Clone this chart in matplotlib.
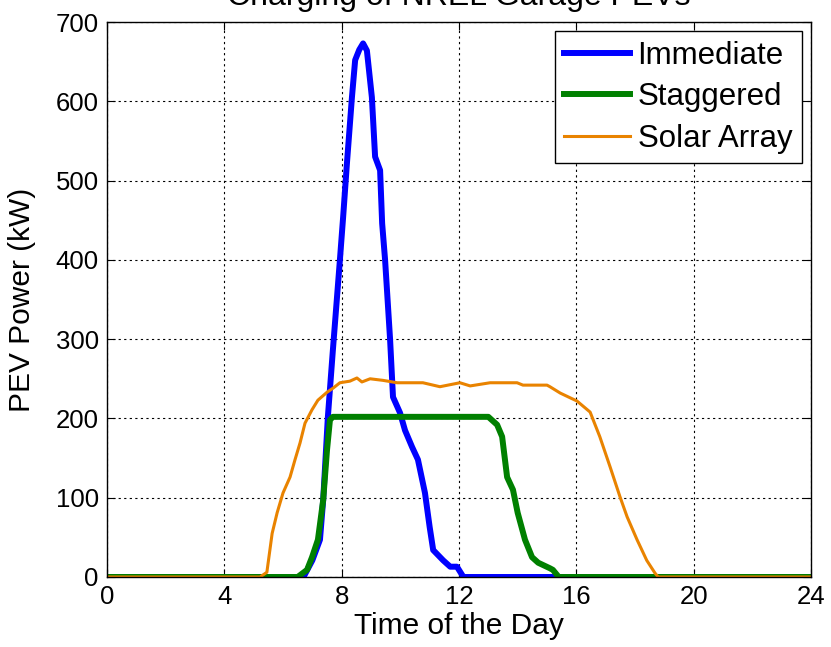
import matplotlib
matplotlib.use("Agg")
import matplotlib.pyplot as plt

plt.rcParams['font.family'] = ['Liberation Sans', 'DejaVu Sans']

# Immediate charging (kW) vs hour of day
imm_t = [0, 6.7, 7.0, 7.26, 7.37, 7.53, 7.7, 7.94, 8.05, 8.18, 8.35, 8.46, 8.6, 8.73,
         8.86, 9.03, 9.14, 9.31, 9.38, 9.48, 9.65, 9.75, 9.99, 10.16, 10.4, 10.6,
         10.84, 11.0, 11.12, 11.46, 11.7, 11.93, 12.15, 24]
imm_p = [0, 0, 21, 47, 97, 202, 286, 400, 454, 522, 605, 652, 665, 673,
         664, 605, 530, 513, 446, 400, 300, 227, 207, 185, 164, 148,
         106, 63, 34, 21, 13, 13, 0, 0]

# Staggered charging
stg_t = [0, 6.5, 6.82, 6.99, 7.19, 7.37, 7.5, 7.6, 7.7, 13.0, 13.3, 13.47, 13.64,
         13.84, 14.0, 14.25, 14.49, 14.7, 15.1, 15.2, 15.4, 24]
stg_p = [0, 0, 9, 25, 47, 97, 160, 198, 202, 202, 192, 177, 126,
         110, 81, 47, 25, 18, 11, 9, 0, 0]

# Solar array output
sol_t = [0, 5.22, 5.45, 5.63, 5.8, 6.0, 6.24, 6.41, 6.58, 6.75, 6.99, 7.19, 7.5,
         7.7, 7.94, 8.28, 8.52, 8.69, 8.97, 9.41, 9.89, 10.77, 11.35, 12.03, 12.38,
         13.06, 13.98, 14.18, 15.0, 15.1, 15.45, 15.79, 16.02, 16.47, 16.8, 17.15,
         17.49, 17.73, 18.07, 18.4, 18.68, 18.79, 24]
sol_p = [0, 0, 6, 55, 81, 106, 126, 148, 169, 194, 211, 223, 233,
         238, 245, 247, 251, 246, 250, 248, 245, 245, 240, 245, 241,
         245, 245, 242, 242, 240, 232, 226, 222, 208, 177, 139,
         101, 76, 47, 21, 5, 0, 0]

xticks = [0, 4, 8, 12, 16, 20, 24]
yticks = [0, 100, 200, 300, 400, 500, 600, 700]

fig = plt.figure(figsize=(8.31, 6.47), dpi=100)
ax = fig.add_axes([107/831, 70/647, 704/831, 555/647])

ax.plot(imm_t, imm_p, color='#0000ff', lw=4.3, label='Immediate')
ax.plot(stg_t, stg_p, color='#008000', lw=4.3, label='Staggered')
ax.plot(sol_t, sol_p, color='#e98300', lw=2.2, label='Solar Array')

ax.set_xlim(0, 24)
ax.set_ylim(0, 700)
ax.set_xticks(xticks)
ax.set_yticks(yticks)
ax.tick_params(direction='in', top=True, right=True, labelsize=18.5, length=6, pad=6)
ax.grid(True, color='black', linestyle=(0, (2, 3)), lw=0.8)
for s in ax.spines.values():
    s.set_linewidth(1.0)

ax.set_xlabel('Time of the Day', fontsize=21.5, labelpad=2)
ax.set_ylabel('PEV Power (kW)', fontsize=21.5, labelpad=14)
fig.text(459/831, 1 - 5/647, 'Charging of NREL Garage PEVs', fontsize=23,
         ha='center', va='baseline')

leg = ax.legend(loc='upper right', fontsize=22.5, fancybox=False, framealpha=1,
                edgecolor='black', borderaxespad=0.3, handlelength=2.1,
                handletextpad=0.25, labelspacing=0.37, borderpad=0.3)
leg.get_frame().set_linewidth(1.0)

fig.savefig('out.png', dpi=100)
